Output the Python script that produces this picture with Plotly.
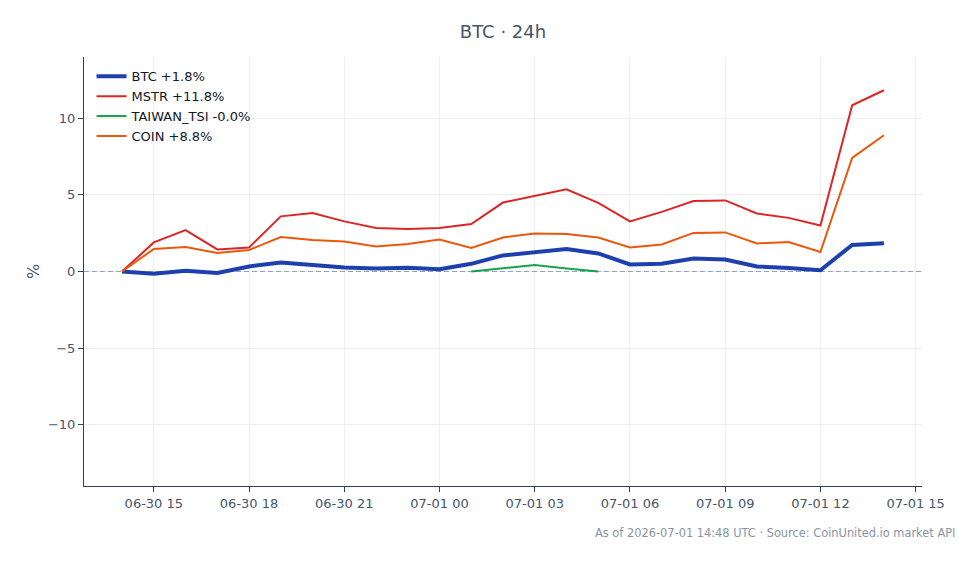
import plotly.graph_objects as go
import pandas as pd

times = pd.date_range("2026-06-30 14:00", "2026-07-01 14:00", freq="h")
x_range = [pd.Timestamp("2026-06-30 12:48"), pd.Timestamp("2026-07-01 15:12")]

btc = [0, -0.15, 0.05, -0.1, 0.33, 0.58, 0.42, 0.26, 0.2, 0.25, 0.15, 0.5, 1.05,
       1.24, 1.47, 1.18, 0.46, 0.5, 0.85, 0.78, 0.33, 0.23, 0.08, 1.73, 1.85]
mstr = [0, 1.9, 2.7, 1.44, 1.57, 3.6, 3.82, 3.27, 2.84, 2.78, 2.84, 3.1, 4.5,
        4.93, 5.36, 4.48, 3.27, 3.89, 4.6, 4.64, 3.79, 3.5, 3.0, 10.85, 11.83]
taiwan = [None] * 11 + [0, 0.23, 0.42, 0.2, -0.0] + [None] * 9
coin = [0, 1.47, 1.6, 1.21, 1.4, 2.25, 2.06, 1.96, 1.63, 1.8, 2.09, 1.54, 2.22,
        2.48, 2.45, 2.22, 1.57, 1.76, 2.52, 2.55, 1.83, 1.93, 1.27, 7.42, 8.89]

names = ["BTC +1.8%", "MSTR +11.8%", "TAIWAN_TSI -0.0%", "COIN +8.8%"]
series = [btc, mstr, taiwan, coin]
colors = ["#1e40af", "#dc2626", "#16a34a", "#ea580c"]
widths = [4, 2, 2, 2]

fig = go.Figure()
# zero reference line (drawn under the data lines)
fig.add_trace(go.Scatter(x=x_range, y=[0, 0], mode="lines", showlegend=False,
                         hoverinfo="skip", line=dict(color="#94a3b8", width=1, dash="5px,3px")))
for n, s, c, w in zip(names, series, colors, widths):
    fig.add_trace(go.Scatter(x=times, y=s, name=n, mode="lines",
                             line=dict(color=c, width=w), connectgaps=False))

fig.update_layout(
    width=979, height=564,
    margin=dict(l=84, r=57, t=57, b=78),
    paper_bgcolor="white", plot_bgcolor="white",
    font=dict(family="DejaVu Sans", size=13, color="#475569"),
    title=dict(text="BTC · 24h", x=0.5, xref="paper", xanchor="center",
               y=0.943, yanchor="middle", font=dict(size=18, color="#475569")),
    legend=dict(x=0.009, y=0.99, xanchor="left", yanchor="top",
                bgcolor="rgba(0,0,0,0)", font=dict(size=13, color="#111827")),
    xaxis=dict(range=x_range,
               dtick=3 * 3600 * 1000, tick0="2026-06-30 15:00", tickformat="%m-%d %H",
               showgrid=True, gridcolor="#eeeeee", showline=True, linecolor="#334155",
               ticks="outside", tickcolor="#334155", ticklen=5, zeroline=False),
    yaxis=dict(range=[-14, 14], dtick=5, title=dict(text="%", standoff=4),
               showgrid=True, gridcolor="#eeeeee", showline=True, linecolor="#334155",
               ticks="outside", tickcolor="#334155", ticklen=5, zeroline=False),
    annotations=[dict(text="As of 2026-07-01 14:48 UTC · Source: CoinUnited.io market API",
                      xref="paper", yref="paper", x=1.042, y=-0.088, xanchor="right",
                      yanchor="top", showarrow=False, font=dict(size=11.4, color="#8a94a3"))],
)

fig.write_html("out.html")
